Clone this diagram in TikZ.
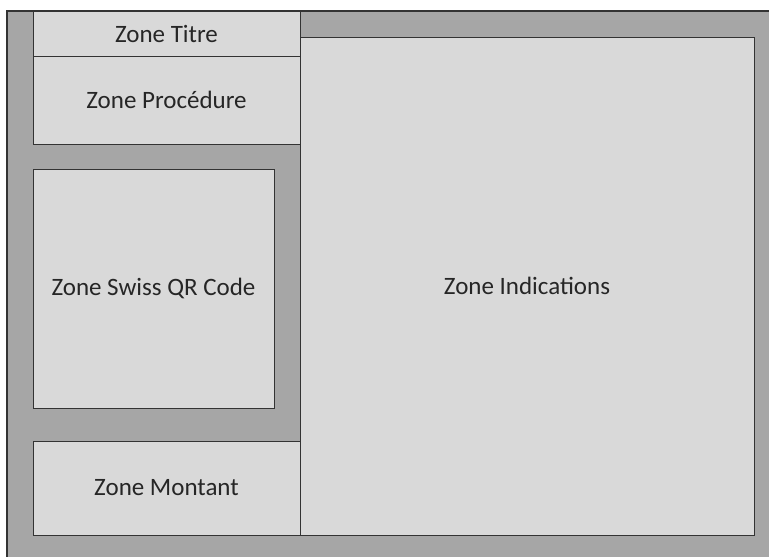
\documentclass[tikz,border=0pt]{standalone}
\usepackage{fontspec}
\setmainfont{Carlito}
\usetikzlibrary{positioning}
\definecolor{fondgris}{HTML}{A6A6A6}
\definecolor{zonegris}{HTML}{D9D9D9}
\tikzset{
  fond/.style={draw=black!80, fill=fondgris, line width=1.2pt},
  zone/.style={draw=black!80, fill=zonegris, line width=1pt, inner sep=0pt, font=\fontsize{25}{30}\selectfont, text=black!85},
}

\begin{document}
\begin{tikzpicture}[x=1pt,y=-1pt]
  \useasboundingbox (0,0) rectangle (769,557);

  % fond
  \draw[fond] (7,11) rectangle (790,580);

  % zones
  \node[zone, minimum width=267pt, minimum height=45pt] (titre) at (166.5,33.5) {Zone Titre};
  \node[zone, minimum width=267pt, minimum height=88pt] (procedure) at (166.5,100) {Zone Procédure};
  \node[zone, minimum width=241pt, minimum height=239pt] (qrcode) at (153.5,288.5) {Zone Swiss QR Code};
  \node[zone, minimum width=267pt, minimum height=94pt] (montant) at (166.5,488) {Zone Montant};
  \node[zone, minimum width=454pt, minimum height=498pt] (indications) at (527,286) {Zone Indications};

\end{tikzpicture}
\end{document}
